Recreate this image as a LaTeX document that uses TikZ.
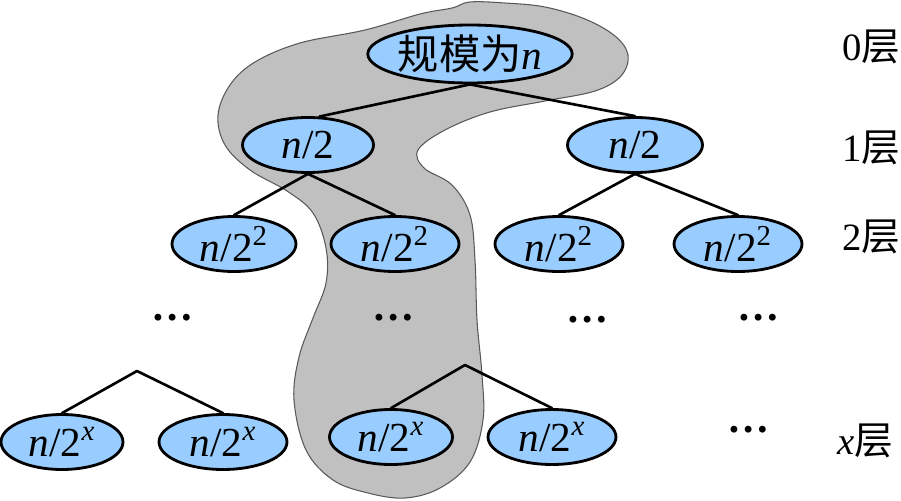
\documentclass[tikz,border=0pt]{standalone}
\usepackage{fontspec}
\setmainfont{Liberation Serif}
\newfontfamily\cjk{Noto Sans CJK SC}
\usetikzlibrary{shapes.geometric}
\definecolor{nodeblue}{RGB}{153,204,255}
\definecolor{blobgray}{RGB}{192,192,192}
\newcommand\nv{\textit{n}}
\tikzset{
    sub/.style={ellipse,draw,line width=1.6pt,fill=nodeblue,inner sep=0pt,minimum width=2.56cm,minimum height=1.1cm,font=\fontsize{23.5}{27}\selectfont},
    dotrow/.style={font=\fontsize{24}{28}\selectfont\bfseries},
    edge/.style={line width=1.5pt}
}
\begin{document}
\begin{tikzpicture}[x=0.02cm,y=-0.02cm,line join=round,line cap=round,font=\fontsize{22}{26}\selectfont]
                \useasboundingbox (0,0) rectangle (901,500);
                \draw[fill=blobgray,draw=black!65,line width=.6pt] plot[smooth cycle,tension=.6] coordinates {
                    (470,2) (505,3) (545,7) (585,19) (615,36) (628,55) (621,76) (595,91) (545,101) (490,112)
                    (445,130) (418,150) (424,168) (452,185) (470,215) (475,260) (477,320) (482,375) (483,420)
                    (470,462) (440,488) (405,498) (368,493) (333,480) (306,450) (294,400) (299,357) (313,318)
                    (326,283) (326,248) (313,213) (287,191) (250,170) (225,145) (218,115) (230,85) (255,62)
                    (300,43) (365,30) (420,14) (452,8)};
                \path (470,54)node[sub,minimum width=3.6cm,minimum height=1.16cm] (root){{\cjk 规模为}\nv}
                (308,145)node[sub,minimum width=2.62cm] (l1a){\nv/2}
                (635,145)node[sub,minimum width=2.7cm] (l1b){\nv/2}
                (234,244)node[sub,minimum width=2.48cm] (l2a){\nv/2\textsuperscript{2}}
                (395,244)node[sub] (l2b){\nv/2\textsuperscript{2}}
                (559,244)node[sub] (l2c){\nv/2\textsuperscript{2}}
                (738,244)node[sub] (l2d){\nv/2\textsuperscript{2}}
                (62,442)node[sub,minimum width=2.44cm] (lxa){\nv/2\textsuperscript{\textit{x}}}
                (223,442)node[sub] (lxb){\nv/2\textsuperscript{\textit{x}}}
                (391,437)node[sub,minimum width=2.46cm] (lxc){\nv/2\textsuperscript{\textit{x}}}
                (552,437)node[sub] (lxd){\nv/2\textsuperscript{\textit{x}}}
                (173,318)node[dotrow] (da){…}
                (394,318)node[dotrow] (db){…}
                (588,320)node[dotrow] (dc){…}
                (759,318)node[dotrow] (dd){…}
                (749,430)node[dotrow] (de){…}
                (871,47)node (k0){0{\cjk 层}}
                (871,148)node (k1){1{\cjk 层}}
                (871,237)node (k2){2{\cjk 层}}
                (865,441)node (kx){\textit{x}{\cjk 层}}
                ;
                \coordinate (ba) at (137,371);
                \coordinate (bb) at (465,365);
                \draw[edge](root.south)--(l1a.68);
                \draw[edge](root.south)--(l1b.north);
                \draw[edge](l1a.south)--(l2a.north);
                \draw[edge](l1a.south)--(l2b.north);
                \draw[edge](l1b.south)--(l2c.north);
                \draw[edge](l1b.south)--(l2d.north);
                \draw[edge](lxa.north)--(ba)--(lxb.north);
                \draw[edge](lxc.north)--(bb)--(lxd.north);
            \end{tikzpicture}
\end{document}
